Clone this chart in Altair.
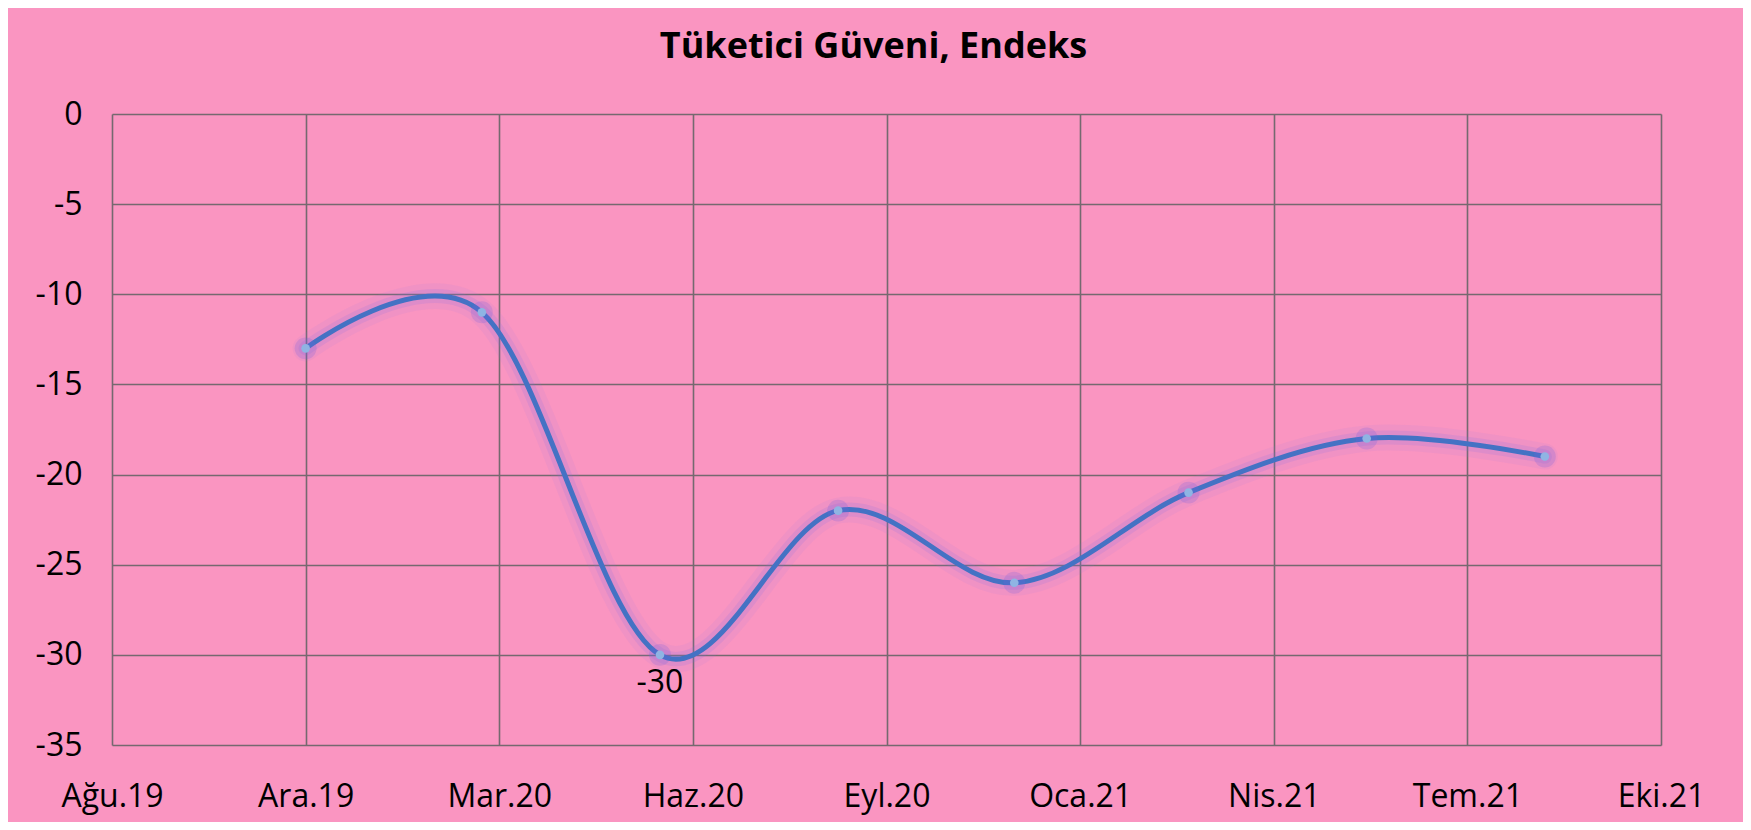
import altair as alt
import pandas as pd

# ---- data ----
dates = ["2019-12-01", "2020-03-01", "2020-06-01", "2020-09-01",
         "2020-12-01", "2021-03-01", "2021-06-01", "2021-09-01"]
values = [-13, -11, -30, -22, -26, -21, -18, -19]

# data label shown on the chart
label_dates = ["2020-06-01"]
label_values = [-30]

# axis ticks (Excel date axis, 100-day major unit)
x_ticks = ["2019-08-23", "2019-12-01", "2020-03-10", "2020-06-18", "2020-09-26",
           "2021-01-04", "2021-04-14", "2021-07-23", "2021-10-31"]
y_ticks = [0, -5, -10, -15, -20, -25, -30, -35]
month_names = ["Oca", "Şub", "Mar", "Nis", "May", "Haz",
               "Tem", "Ağu", "Eyl", "Eki", "Kas", "Ara"]

title_text = "Tüketici Güveni, Endeks"

df = pd.DataFrame({"date": dates, "value": values})
df_lab = pd.DataFrame({"date": label_dates, "value": label_values})

FONT = "Open Sans"
names_js = "[" + ",".join("'" + m + "'" for m in month_names) + "]"
label_expr = names_js + "[utcmonth(datum.value)] + '.' + utcFormat(datum.value, '%y')"

x_enc = alt.X(
    "date:T",
    scale=alt.Scale(type="utc", domain=[x_ticks[0], x_ticks[-1]], nice=False),
    axis=alt.Axis(
        values=x_ticks, labelExpr=label_expr, title=None, grid=True,
        domain=False, ticks=False, labelPadding=36, labelFontSize=32,
        labelFont=FONT, labelColor="#000000", gridColor="#75696f",
        gridWidth=1.6, gridOpacity=1, labelFlush=False, labelOverlap=False,
    ),
)
y_enc = alt.Y(
    "value:Q",
    scale=alt.Scale(domain=[-35, 0], nice=False, zero=False),
    axis=alt.Axis(
        values=y_ticks, title=None, grid=True, domain=False, ticks=False,
        labelExpr="toString(datum.value)",
        labelPadding=30, labelFontSize=32, labelFont=FONT, labelColor="#000000",
        gridColor="#75696f", gridWidth=1.6, gridOpacity=1,
    ),
)

base = alt.Chart(df).encode(x=x_enc, y=y_enc)

glow_outer = base.mark_line(interpolate="cardinal", color="#8f7ae6",
                            strokeWidth=26, opacity=0.09, strokeCap="round")
glow_inner = base.mark_line(interpolate="cardinal", color="#8470e4",
                            strokeWidth=14, opacity=0.16, strokeCap="round")
line = base.mark_line(interpolate="cardinal", color="#4472C4", strokeWidth=5)
glow_pts = base.mark_circle(color="#7060e0", size=480, opacity=0.22)
points = base.mark_circle(color="#8fb4e3", size=75, opacity=1)

labels = alt.Chart(df_lab).transform_calculate(
    lab="toString(datum.value)"
).mark_text(
    font=FONT, fontSize=32, color="#000000", baseline="top", dy=13
).encode(x=alt.X("date:T"), y=alt.Y("value:Q"), text=alt.Text("lab:N"))

chart = alt.layer(glow_outer, glow_inner, line, glow_pts, points, labels).properties(
    width=1549,
    height=631,
    autosize=alt.AutoSizeParams(type="none"),
    padding={"left": 104, "top": 106, "right": 82, "bottom": 77},
    background="#fa95c1",
    title=alt.TitleParams(
        text=title_text, font=FONT, fontSize=36, fontWeight="bold",
        color="#000000", anchor="middle", frame="group", offset=32, dx=-13,
    ),
).configure_view(stroke=None, fill="#fa95c1")

chart.save("out.html", embed_options={"renderer": "svg", "actions": False})
